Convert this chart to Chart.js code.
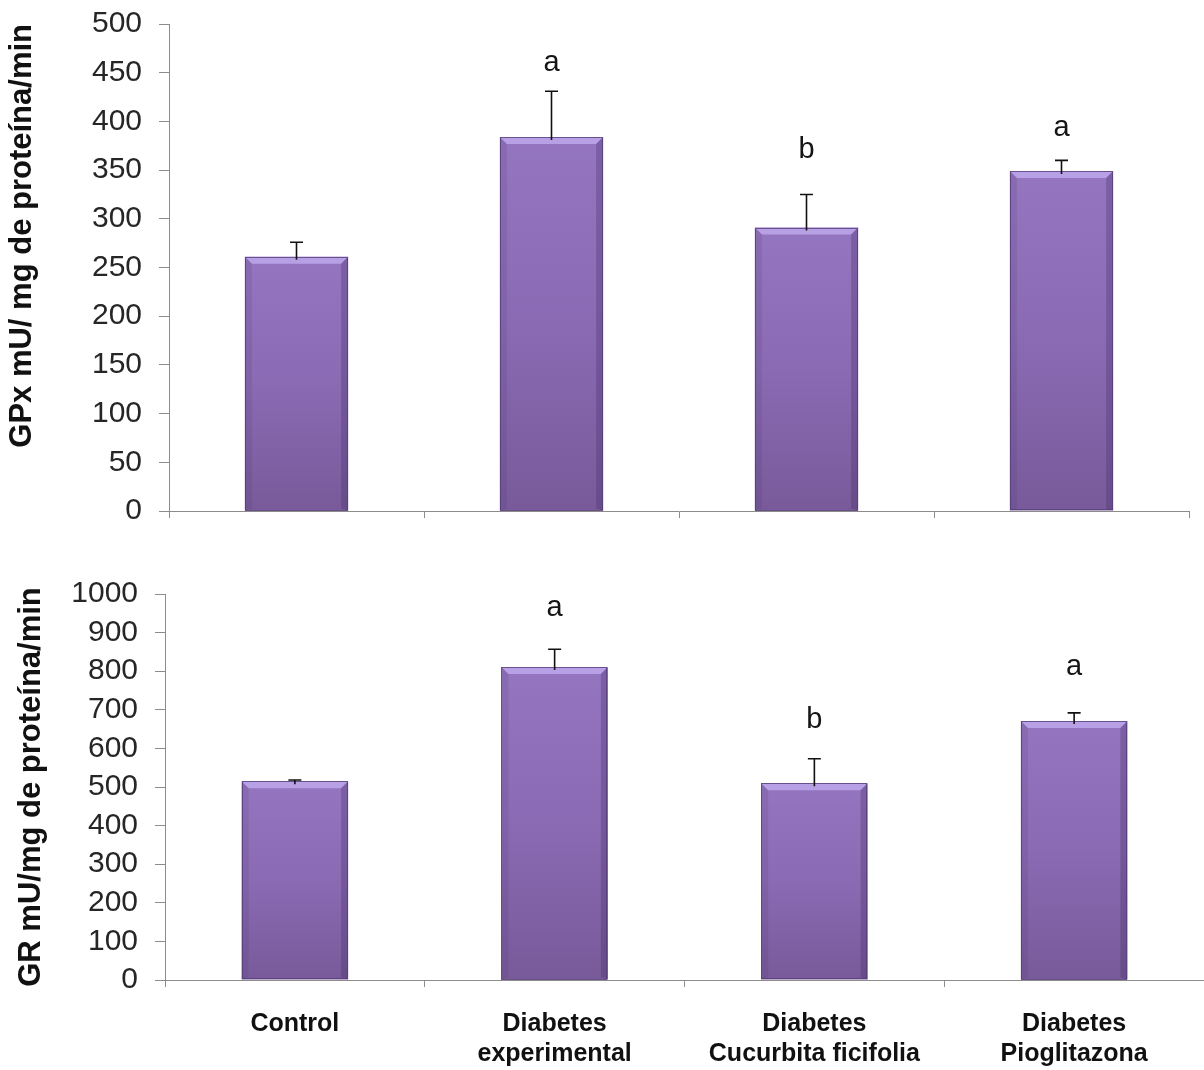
<!DOCTYPE html>
<html>
<head>
<meta charset="utf-8">
<title>GPx y GR</title>
<script src="https://cdn.jsdelivr.net/npm/chart.js@4.4.1/dist/chart.umd.min.js"></script>
<style>
  html, body { margin: 0; padding: 0; background: #ffffff; }
  canvas { display: block; }
</style>
</head>
<body>
<canvas id="gpx" width="1204" height="540"></canvas>
<canvas id="gr" width="1204" height="530"></canvas>
<script>
// Groups (x categories), shared by both panels
const groups = ['Control', ['Diabetes', 'experimental'], ['Diabetes', 'Cucurbita ficifolia'], ['Diabetes', 'Pioglitazona']];

// GPx activity (mU/mg protein/min): mean and error
const gpxMean = [261, 384, 291, 349];
const gpxErr = [15, 47, 34, 11];
const gpxLetters = ['', 'a', 'b', 'a'];
const gpxLetterAt = [null, 460, 371, 393];
const gpxTicks = [0, 50, 100, 150, 200, 250, 300, 350, 400, 450, 500];

// GR activity (mU/mg protein/min): mean and error
const grMean = [515, 811, 510, 671];
const grErr = [3, 46, 63, 21];
const grLetters = ['', 'a', 'b', 'a'];
const grLetterAt = [null, 964, 674, 811];
const grTicks = [0, 100, 200, 300, 400, 500, 600, 700, 800, 900, 1000];

const AXIS = '#8c8c8c';
const FONT = "'Liberation Sans', Arial, sans-serif";
const BAR_FLAT = '#8a6bb3';

// Vertical purple gradient per bar
function barFill(ctx) {
  const chart = ctx.chart;
  const y = chart.scales.y;
  if (!y || !ctx.parsed || ctx.parsed.y == null) return BAR_FLAT;
  const top = y.getPixelForValue(ctx.parsed.y);
  const bot = y.getPixelForValue(0);
  if (!isFinite(top) || !isFinite(bot) || top === bot) return BAR_FLAT;
  const g = chart.ctx.createLinearGradient(0, top, 0, bot);
  g.addColorStop(0, '#9475bf');
  g.addColorStop(0.5, '#8a6ab3');
  g.addColorStop(1, '#785a9a');
  return g;
}

// Bevelled edges on each bar, then error bars and significance letters
const barDecor = {
  id: 'barDecor',
  afterDatasetsDraw(chart) {
    const ctx = chart.ctx;
    const meta = chart.getDatasetMeta(0);
    const ys = chart.scales.y;
    const ds = chart.data.datasets[0];
    meta.data.forEach((el, i) => {
      const x0 = el.x - el.width / 2, x1 = el.x + el.width / 2;
      const y0 = el.y, y1 = el.base, b = 7;
      ctx.save();
      // top highlight
      ctx.fillStyle = 'rgba(190,168,236,0.85)';
      ctx.beginPath();
      ctx.moveTo(x0, y0); ctx.lineTo(x1, y0); ctx.lineTo(x1 - b, y0 + b); ctx.lineTo(x0 + b, y0 + b); ctx.closePath();
      ctx.fill();
      // right shade
      ctx.fillStyle = 'rgba(60,38,92,0.28)';
      ctx.beginPath();
      ctx.moveTo(x1, y0); ctx.lineTo(x1, y1); ctx.lineTo(x1 - b, y1 - 2); ctx.lineTo(x1 - b, y0 + b); ctx.closePath();
      ctx.fill();
      // left shade
      ctx.fillStyle = 'rgba(60,38,92,0.12)';
      ctx.beginPath();
      ctx.moveTo(x0, y0); ctx.lineTo(x0 + b, y0 + b); ctx.lineTo(x0 + b, y1 - 2); ctx.lineTo(x0, y1); ctx.closePath();
      ctx.fill();
      // outline
      ctx.strokeStyle = 'rgba(85,60,120,0.8)';
      ctx.lineWidth = 1;
      ctx.strokeRect(Math.round(x0) + 0.5, Math.round(y0) + 0.5, Math.round(x1 - x0) - 1, Math.round(y1 - y0) - 1);
      ctx.restore();

      // error bar
      const err = ds.err[i];
      const yt = ys.getPixelForValue(ds.data[i] + err);
      ctx.save();
      ctx.strokeStyle = '#111';
      ctx.lineWidth = 1.6;
      ctx.beginPath();
      ctx.moveTo(el.x, y0 + 3); ctx.lineTo(el.x, yt);
      ctx.moveTo(el.x - 6.5, yt); ctx.lineTo(el.x + 6.5, yt);
      ctx.stroke();
      ctx.restore();

      // letter
      const t = ds.letters[i];
      if (t) {
        ctx.save();
        ctx.fillStyle = '#151515';
        ctx.font = '29px ' + FONT;
        ctx.textAlign = 'center';
        ctx.textBaseline = 'middle';
        ctx.fillText(t, el.x, ys.getPixelForValue(ds.letterAt[i]));
        ctx.restore();
      }
    });
  }
};

function makeChart(id, opt) {
  return new Chart(document.getElementById(id), {
    type: 'bar',
    data: {
      labels: groups,
      datasets: [{
        data: opt.mean,
        err: opt.err,
        letters: opt.letters,
        letterAt: opt.letterAt,
        backgroundColor: barFill,
        borderWidth: 0,
        barPercentage: opt.barPct,
        categoryPercentage: 1
      }]
    },
    options: {
      responsive: false,
      animation: false,
      devicePixelRatio: 1,
      layout: { padding: opt.padding },
      plugins: { legend: { display: false }, tooltip: { enabled: false }, title: { display: false } },
      scales: {
        x: {
          offset: true,
          ticks: {
            display: opt.showX,
            color: '#111',
            font: { family: FONT, size: 25, weight: 'bold', lineHeight: 1.2 },
            padding: 22,
            maxRotation: 0,
            autoSkip: false
          },
          grid: { offset: true, drawOnChartArea: false, drawTicks: true, tickLength: 7, color: AXIS, lineWidth: 1 },
          border: { display: true, color: AXIS, width: 1 },
          afterFit(s) { s.height = opt.xHeight; }
        },
        y: {
          min: opt.ticks[0],
          max: opt.ticks[opt.ticks.length - 1],
          afterBuildTicks(s) { s.ticks = opt.ticks.map(v => ({ value: v })); },
          ticks: {
            color: '#262626',
            font: { family: FONT, size: 30, lineHeight: 1 },
            padding: 17,
            autoSkip: false,
            callback: v => String(v)
          },
          grid: { drawOnChartArea: false, drawTicks: true, tickLength: 10, color: AXIS, lineWidth: 1 },
          border: { display: true, color: AXIS, width: 1 },
          title: {
            display: true,
            text: opt.title,
            color: '#111',
            align: opt.titleAlign,
            font: { family: FONT, size: 31, weight: 'bold', lineHeight: 1.2 },
            padding: { top: opt.titlePad, bottom: 0 }
          },
          afterFit(s) {
            s.width = opt.yWidth;
            s.paddingTop = 0;
            s.paddingBottom = 0;
          }
        }
      }
    },
    plugins: [barDecor]
  });
}

makeChart('gpx', {
  mean: gpxMean, err: gpxErr, letters: gpxLetters, letterAt: gpxLetterAt, ticks: gpxTicks,
  title: 'GPx mU/ mg de proteína/min', titleAlign: 'end', titlePad: 4,
  padding: { top: 24, right: 15, bottom: 0, left: 0 },
  yWidth: 169, xHeight: 29, showX: false, barPct: 0.405
});

makeChart('gr', {
  mean: grMean, err: grErr, letters: grLetters, letterAt: grLetterAt, ticks: grTicks,
  title: 'GR mU/mg de proteína/min', titleAlign: 'center', titlePad: 13,
  padding: { top: 54, right: 0, bottom: 0, left: 0 },
  yWidth: 165, xHeight: 90, showX: true, barPct: 0.41
});
</script>
</body>
</html>
